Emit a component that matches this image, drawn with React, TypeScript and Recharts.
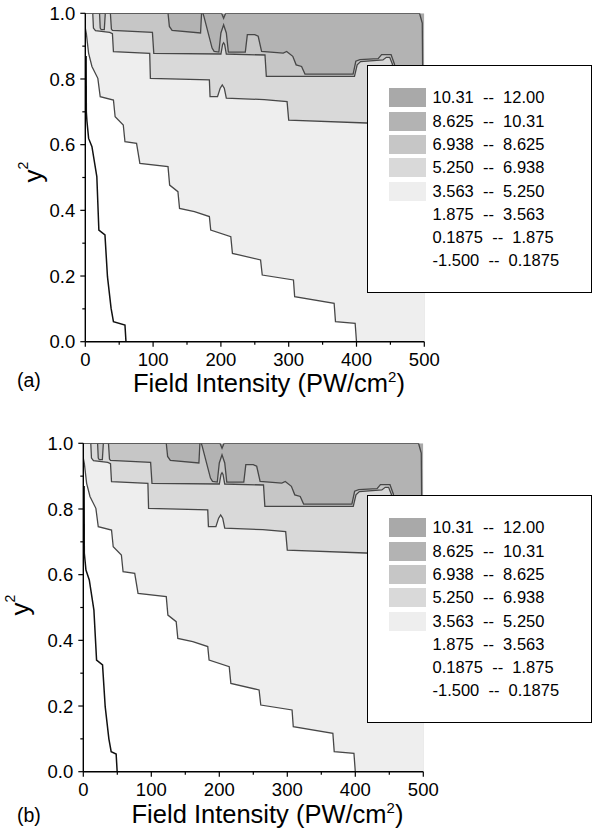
import React from 'react';
import { ComposedChart, Area, Line, XAxis, YAxis, Legend, Label } from 'recharts';

type Pt = { x: number; y: number };

const FONT = '"Liberation Sans", Arial, Helvetica, sans-serif';
const LINE_COLOR = '#474747';

const xTickValues = [0, 50, 100, 150, 200, 250, 300, 350, 400, 450, 500];
const yTickValues = [0, 0.1, 0.2, 0.3, 0.4, 0.5, 0.6, 0.7, 0.8, 0.9, 1.0];

const levelLabels = [
  '10.31  --  12.00',
  '8.625  --  10.31',
  '6.938  --  8.625',
  '5.250  --  6.938',
  '3.563  --  5.250',
  '1.875  --  3.563',
  '0.1875  --  1.875',
  '-1.500  --  0.1875',
];
const levelColors = ['#a9a9a9', '#b3b3b3', '#c6c6c6', '#d9d9d9', '#eeeeee', '#ffffff', '#ffffff', '#ffffff'];

// contour lines (x in PW/cm2, y = y^2)
const topEdge: Pt[] = [{ x: 0, y: 1 }, { x: 500, y: 1 }];

const contour5: Pt[] = [
  { x: 0, y: 1 }, { x: 201, y: 1 }, { x: 204, y: 0.985 }, { x: 207, y: 1 }, { x: 493, y: 1 },
  { x: 495, y: 0.985 }, { x: 497, y: 0.97 }, { x: 497.5, y: 0.84 }, { x: 500, y: 0.84 },
];

const contour4: Pt[] = [
  { x: 0, y: 1 }, { x: 122, y: 1 }, { x: 124, y: 0.96 }, { x: 128, y: 0.948 }, { x: 170, y: 0.94 },
  { x: 171.5, y: 1 }, { x: 173.5, y: 1 }, { x: 175, y: 0.99 }, { x: 187, y: 0.894 }, { x: 190, y: 0.884 },
  { x: 197, y: 0.882 }, { x: 200, y: 0.94 }, { x: 204, y: 0.965 }, { x: 208, y: 0.94 }, { x: 211, y: 0.882 },
  { x: 236, y: 0.882 }, { x: 239, y: 0.935 }, { x: 250, y: 0.935 }, { x: 255, y: 0.93 }, { x: 260, y: 0.884 },
  { x: 292, y: 0.879 }, { x: 297, y: 0.884 }, { x: 306, y: 0.869 }, { x: 311, y: 0.843 }, { x: 319, y: 0.838 },
  { x: 324, y: 0.815 }, { x: 395, y: 0.815 }, { x: 399, y: 0.854 }, { x: 405, y: 0.859 }, { x: 432, y: 0.862 },
  { x: 437, y: 0.874 }, { x: 451, y: 0.874 }, { x: 456, y: 0.845 }, { x: 458, y: 0.78 }, { x: 500, y: 0.78 },
];

const contour3: Pt[] = [
  { x: 0, y: 1 }, { x: 21, y: 1 }, { x: 22, y: 0.955 }, { x: 23.5, y: 0.95 }, { x: 28, y: 0.95 },
  { x: 29.5, y: 1 }, { x: 37, y: 1 }, { x: 38.5, y: 0.952 }, { x: 40, y: 0.948 }, { x: 99, y: 0.942 },
  { x: 101, y: 0.878 }, { x: 200, y: 0.876 }, { x: 202.5, y: 0.905 }, { x: 204, y: 0.91 }, { x: 205.5, y: 0.905 },
  { x: 208, y: 0.876 }, { x: 265, y: 0.873 }, { x: 267, y: 0.808 }, { x: 397, y: 0.808 }, { x: 401, y: 0.843 },
  { x: 406, y: 0.853 }, { x: 439, y: 0.858 }, { x: 444, y: 0.866 }, { x: 449, y: 0.866 }, { x: 453, y: 0.845 },
  { x: 455, y: 0.77 }, { x: 500, y: 0.75 },
];

const contour2: Pt[] = [
  { x: 0, y: 1 }, { x: 11, y: 1 }, { x: 12, y: 0.955 }, { x: 15, y: 0.947 }, { x: 36, y: 0.942 },
  { x: 40, y: 0.938 }, { x: 41.5, y: 0.883 }, { x: 95, y: 0.878 }, { x: 96, y: 0.802 }, { x: 183, y: 0.797 },
  { x: 184, y: 0.746 }, { x: 195, y: 0.746 }, { x: 199, y: 0.772 }, { x: 202, y: 0.782 }, { x: 205, y: 0.772 },
  { x: 208, y: 0.742 }, { x: 264, y: 0.737 }, { x: 297.6, y: 0.731 }, { x: 300, y: 0.675 }, { x: 415, y: 0.666 },
  { x: 500, y: 0.66 },
];

const contour1: Pt[] = [
  { x: 0, y: 0.955 }, { x: 1.5, y: 0.939 }, { x: 4.9, y: 0.878 }, { x: 9.8, y: 0.838 }, { x: 18.5, y: 0.802 },
  { x: 22, y: 0.746 }, { x: 41.5, y: 0.736 }, { x: 44, y: 0.685 }, { x: 56, y: 0.66 }, { x: 58.5, y: 0.609 },
  { x: 75.6, y: 0.604 }, { x: 80.5, y: 0.543 }, { x: 122, y: 0.533 }, { x: 124.4, y: 0.477 }, { x: 136.6, y: 0.457 },
  { x: 139, y: 0.406 }, { x: 161, y: 0.396 }, { x: 183, y: 0.381 }, { x: 185, y: 0.34 }, { x: 214.6, y: 0.32 },
  { x: 217, y: 0.269 }, { x: 258.5, y: 0.249 }, { x: 261, y: 0.203 }, { x: 307, y: 0.188 }, { x: 308.8, y: 0.137 },
  { x: 367, y: 0.117 }, { x: 369, y: 0.061 }, { x: 398, y: 0.056 }, { x: 400, y: 0 }, { x: 500, y: 0 },
];

const blackContourA: Pt[] = [
  { x: 1.2, y: 0.87 }, { x: 1.5, y: 0.7 }, { x: 2.4, y: 0.672 }, { x: 4.9, y: 0.619 }, { x: 9.8, y: 0.594 },
  { x: 17, y: 0.503 }, { x: 20, y: 0.34 }, { x: 29, y: 0.325 }, { x: 32.7, y: 0.198 }, { x: 38, y: 0.102 },
  { x: 41.5, y: 0.061 }, { x: 58.5, y: 0.051 }, { x: 60, y: 0 },
];

const blackContourB: Pt[] = [
  { x: 1.2, y: 0.87 }, { x: 1.5, y: 0.665 }, { x: 3.9, y: 0.614 }, { x: 8.8, y: 0.584 }, { x: 15.6, y: 0.492 },
  { x: 19.5, y: 0.34 }, { x: 28.3, y: 0.325 }, { x: 32.2, y: 0.198 }, { x: 37.6, y: 0.1 }, { x: 41, y: 0.061 },
  { x: 48.3, y: 0.054 }, { x: 49.8, y: 0 },
];

// painted from the top band down: each area fills below its line
const contourFills = [
  { data: contour5, fill: levelColors[1] },
  { data: contour4, fill: levelColors[2] },
  { data: contour3, fill: levelColors[3] },
  { data: contour2, fill: levelColors[4] },
  { data: contour1, fill: levelColors[5] },
];

const XTick = (props: any) => {
  const { x, y, payload } = props;
  const ay = y - 7;
  const major = Math.round(payload.value) % 100 === 0;
  return (
    <g>
      <line x1={x} x2={x} y1={ay} y2={ay + (major ? 5 : 3)} stroke="#000" strokeWidth={1.2} />
      {major && (
        <text x={x} y={ay + 24} textAnchor="middle" fontSize={18.5} fontFamily={FONT} fill="#000">
          {payload.value}
        </text>
      )}
    </g>
  );
};

const YTick = (props: any) => {
  const { x, y, payload } = props;
  const ax = x + 10;
  const major = Math.round(payload.value * 10) % 2 === 0;
  return (
    <g>
      <line x1={ax} x2={ax - (major ? 5 : 3)} y1={y} y2={y} stroke="#000" strokeWidth={1.2} />
      {major && (
        <text x={ax - 10} y={y + 6.6} textAnchor="end" fontSize={18.5} fontFamily={FONT} fill="#000">
          {payload.value.toFixed(1)}
        </text>
      )}
    </g>
  );
};

const LegendBox = () => (
  <div
    style={{
      position: 'relative',
      width: 225,
      height: 228,
      boxSizing: 'border-box',
      border: '1.3px solid #000',
      background: '#fff',
      fontFamily: FONT,
      fontSize: 16.5,
      color: '#000',
    }}
  >
    {levelLabels.map((lab, i) => (
      <div key={lab}>
        <div
          style={{
            position: 'absolute',
            left: 21,
            top: 22.3 + i * 23.3,
            width: 37,
            height: 19,
            background: levelColors[i],
          }}
        />
        <div
          style={{
            position: 'absolute',
            left: 64.5,
            top: 22.3 + i * 23.3,
            height: 19,
            lineHeight: '19px',
            whiteSpace: 'pre',
          }}
        >
          {lab}
        </div>
      </div>
    ))}
  </div>
);

interface PanelProps {
  tag: string;
  plotLeft: number;
  plotRight: number;
  blackLine: Pt[];
  xTitleX: number;
  xTitleY: number;
  tagY: number;
  yTitleX: number;
  yTitleY: number;
}

function Panel({ tag, plotLeft, plotRight, blackLine, xTitleX, xTitleY, tagY, yTitleX, yTitleY }: PanelProps) {
  const axisLine = { stroke: '#000', strokeWidth: 1.4 };
  return (
    <ComposedChart width={598} height={420} margin={{ top: 13.3, right: 598 - plotRight, bottom: 420 - 341.7 - 40, left: 0 }}>
      <Area
        data={topEdge}
        dataKey="y"
        type="linear"
        fill={levelColors[0]}
        fillOpacity={1}
        stroke="none"
        dot={false}
        activeDot={false}
        isAnimationActive={false}
      />
      {contourFills.map((c, i) => (
        <Area
          key={i}
          data={c.data}
          dataKey="y"
          type="linear"
          fill={c.fill}
          fillOpacity={1}
          stroke={LINE_COLOR}
          strokeWidth={1.3}
          dot={false}
          activeDot={false}
          isAnimationActive={false}
        />
      ))}
      <Line
        data={blackLine}
        dataKey="y"
        type="linear"
        stroke="#111"
        strokeWidth={1.5}
        dot={false}
        activeDot={false}
        isAnimationActive={false}
      />
      <XAxis
        dataKey="x"
        type="number"
        domain={[0, 500]}
        ticks={xTickValues}
        interval={0}
        tick={(p: any) => <XTick {...p} />}
        tickLine={false}
        tickSize={5}
        tickMargin={2}
        height={40}
        axisLine={axisLine}
        allowDataOverflow
      >
        <Label
          content={() => (
            <g fontFamily={FONT} fill="#000">
              <text x={xTitleX} y={xTitleY} textAnchor="middle" fontSize={25.5}>
                Field Intensity (PW/cm
                <tspan dy={-10} fontSize={15}>2</tspan>
                <tspan dy={10}>)</tspan>
              </text>
              <text x={17} y={tagY} fontSize={19.5}>
                {tag}
              </text>
            </g>
          )}
        />
      </XAxis>
      <YAxis
        type="number"
        domain={[0, 1]}
        ticks={yTickValues}
        interval={0}
        tick={(p: any) => <YTick {...p} />}
        tickLine={false}
        tickSize={5}
        tickMargin={5}
        width={plotLeft}
        axisLine={axisLine}
        allowDataOverflow
      >
        <Label
          content={() => (
            <text
              x={yTitleX}
              y={yTitleY}
              transform={`rotate(-90, ${yTitleX}, ${yTitleY})`}
              textAnchor="middle"
              fontSize={26}
              fontFamily={FONT}
              fill="#000"
            >
              y<tspan dy={-14} fontSize={14}>2</tspan>
            </text>
          )}
        />
      </YAxis>
      <XAxis xAxisId="top" orientation="top" type="number" domain={[0, 500]} height={0} tick={false} tickLine={false} axisLine={axisLine} />
      <YAxis yAxisId="right" orientation="right" type="number" domain={[0, 1]} width={0} tick={false} tickLine={false} axisLine={axisLine} />
      <Legend
        layout="vertical"
        align="center"
        verticalAlign="middle"
        wrapperStyle={{ left: 367, top: 65, width: 225, height: 228 }}
        content={() => <LegendBox />}
      />
    </ComposedChart>
  );
}

export default function App() {
  return (
    <div style={{ position: 'absolute', left: 0, top: 0, width: 598, height: 833, background: '#fff' }}>
      <div style={{ position: 'absolute', left: 0, top: 0 }}>
        <Panel
          tag="(a)"
          plotLeft={85.3}
          plotRight={424.3}
          blackLine={blackContourA}
          xTitleX={269}
          xTitleY={391.5}
          tagY={387}
          yTitleX={41.5}
          yTitleY={172}
        />
      </div>
      <div style={{ position: 'absolute', left: 0, top: 430 }}>
        <Panel
          tag="(b)"
          plotLeft={83.3}
          plotRight={423.3}
          blackLine={blackContourB}
          xTitleX={267.5}
          xTitleY={393}
          tagY={392}
          yTitleX={29}
          yTitleY={175}
        />
      </div>
    </div>
  );
}
